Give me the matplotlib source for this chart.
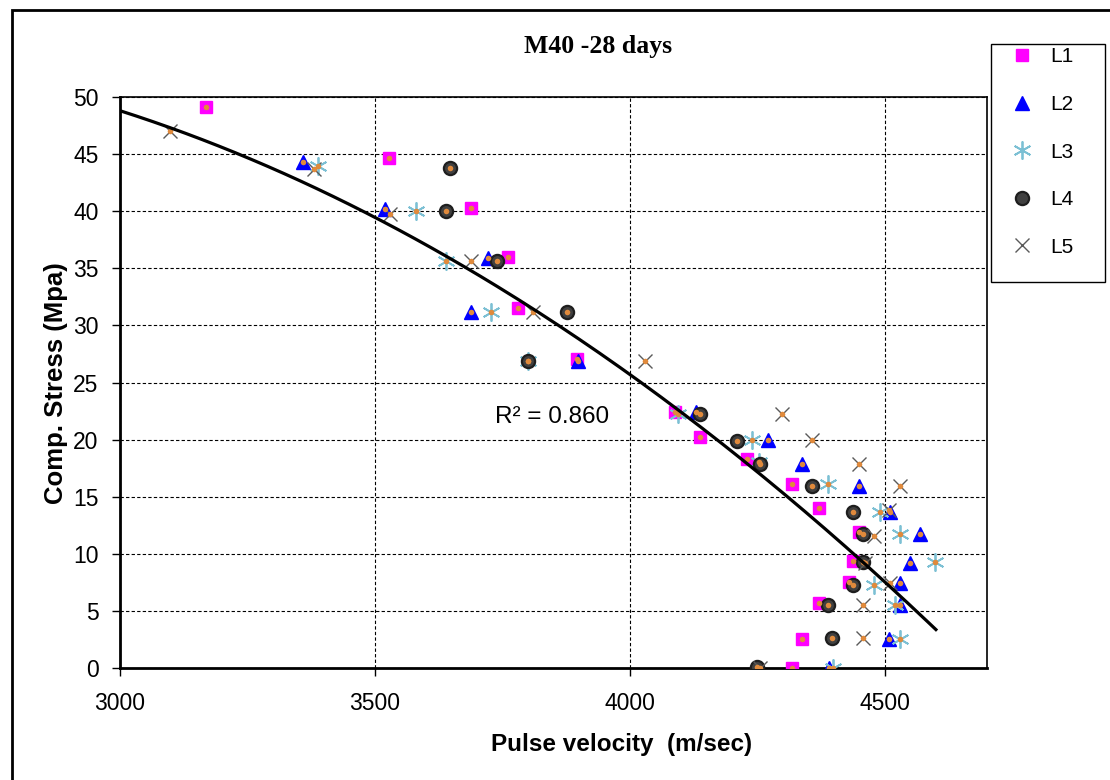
import numpy as np
import matplotlib
matplotlib.use("Agg")
import matplotlib.pyplot as plt
from matplotlib.patches import Rectangle

# values (pulse velocity m/sec, comp. stress Mpa)
l1_x = [3168, 3528, 3689, 3761, 3780, 3896, 4089, 4137, 4230, 4317, 4370, 4450, 4438, 4430, 4370, 4338, 4317]
l1_y = [49.1, 44.7, 40.3, 36.0, 31.5, 27.1, 22.4, 20.2, 18.3, 16.1, 14.0, 11.9, 9.4, 7.5, 5.7, 2.5, 0.0]

l2_x = [3359, 3520, 3721, 3689, 3898, 4129, 4270, 4338, 4450, 4510, 4569, 4550, 4530, 4530, 4508, 4391]
l2_y = [44.3, 40.2, 35.9, 31.2, 26.9, 22.4, 20.0, 17.9, 15.9, 13.7, 11.7, 9.2, 7.4, 5.5, 2.5, 0.0]

l3_x = [3389, 3580, 3640, 3728, 3800, 4095, 4239, 4254, 4389, 4491, 4530, 4598, 4478, 4520, 4530, 4399]
l3_y = [44.0, 40.0, 35.6, 31.2, 26.9, 22.2, 20.0, 18.0, 16.1, 13.7, 11.7, 9.3, 7.3, 5.5, 2.5, 0.0]

l4_x = [3647, 3640, 3740, 3877, 3800, 4137, 4210, 4256, 4358, 4437, 4458, 4458, 4437, 4389, 4397, 4250]
l4_y = [43.8, 40.0, 35.6, 31.2, 26.9, 22.2, 19.9, 17.9, 15.9, 13.7, 11.7, 9.3, 7.3, 5.5, 2.6, 0.1]

l5_x = [3099, 3381, 3529, 3689, 3810, 4029, 4298, 4358, 4450, 4529, 4508, 4479, 4460, 4510, 4458, 4458, 4256]
l5_y = [47.0, 43.7, 39.8, 35.6, 31.2, 26.9, 22.2, 20.0, 17.9, 15.9, 13.8, 11.6, 9.2, 7.4, 5.5, 2.6, 0.0]

# points read along the drawn trendline (2nd order, Excel style)
trend_x = [3000, 3156, 3497, 3785, 3942, 4270, 4597]
trend_y = [48.8, 46.4, 39.4, 32.3, 27.5, 16.4, 3.5]

labels = ["L1", "L2", "L3", "L4", "L5"]
r2_text = "R\u00b2 = 0.860"

fig = plt.figure(figsize=(11.1, 7.8), dpi=100)
ax = fig.add_axes([0.1081, 0.1436, 0.781, 0.732])

ax.plot(l1_x, l1_y, "s", ms=9.2, color="#ff00ff", mec="#ff00ff", label=labels[0], zorder=3)
ax.plot(l2_x, l2_y, "^", ms=9.5, color="#0000ff", mec="#0000ff", label=labels[1], zorder=3)
ax.plot(l3_x, l3_y, marker=(6, 2, 0), ls="none", ms=13, color="#7cc0d4", mew=1.3, label=labels[2], zorder=3)
ax.plot(l4_x, l4_y, "o", ms=9.5, color="#404040", mec="#1e1e1e", mew=1.6, label=labels[3], zorder=3)
ax.plot(l5_x, l5_y, "x", ms=10, color="#5a5a5a", mew=1.0, label=labels[4], zorder=3)

# orange centre dots of the combined series
all_x = l1_x + l2_x + l3_x + l4_x + l5_x
all_y = l1_y + l2_y + l3_y + l4_y + l5_y
ax.plot(all_x, all_y, "o", ms=4, color="#e08a3c", mew=0, zorder=4)

coef = np.polyfit(trend_x, trend_y, 2)
xx = np.linspace(3000, 4600, 200)
ax.plot(xx, np.polyval(coef, xx), color="black", lw=2.3, zorder=5)

ax.text(3735, 22.0, r2_text, fontsize=17.5, family="Liberation Sans", ha="left", va="center")

ax.set_xlim(3000, 4700)
ax.set_ylim(0, 50)
ax.set_xticks([3000, 3500, 4000, 4500])
ax.set_yticks(np.arange(0, 51, 5))
ax.grid(True, color="black", ls=(0, (3, 2)), lw=0.8)
ax.tick_params(labelsize=16.5, length=5.5, width=1, direction="out")
ax.tick_params(axis="x", pad=12)
ax.tick_params(axis="y", pad=10)
for t in ax.get_xticklabels() + ax.get_yticklabels():
    t.set_family("Liberation Sans")
for s in ax.spines.values():
    s.set_linewidth(1.2)
ax.spines["left"].set_linewidth(2.0)
ax.spines["bottom"].set_linewidth(2.0)

fig.text(622 / 1110, 1 - 745 / 780, "Pulse velocity  (m/sec)", fontsize=17.5, fontweight="bold",
         family="Liberation Sans", ha="center", va="center")
fig.text(56 / 1110, 1 - 383 / 780, "Comp. Stress (Mpa)", fontsize=18.5, fontweight="bold",
         family="Liberation Sans", ha="center", va="center", rotation=90)

fig.text(598 / 1110, 1 - 46 / 780, "M40 -28 days", fontsize=18.5, fontweight="bold",
         family="Liberation Serif", ha="center", va="center")

leg = fig.legend(loc="upper left", bbox_to_anchor=(1007.5 / 1110, 1 - 47.5 / 780), labelspacing=1.37,
                 frameon=False, handlelength=1.4, handletextpad=0.65, borderpad=0, borderaxespad=0,
                 prop={"family": "Liberation Sans", "size": 15})

# legend frame and outer chart border
fig.patches.append(Rectangle((991 / 1110, 1 - 282 / 780), 114 / 1110, 238 / 780, transform=fig.transFigure,
                             fill=False, ec="black", lw=1.0))
fig.patches.append(Rectangle((0.011, -0.1), 1.2, 1.087, transform=fig.transFigure, fill=False,
                             ec="black", lw=2))

fig.savefig("out.png", dpi=100)
